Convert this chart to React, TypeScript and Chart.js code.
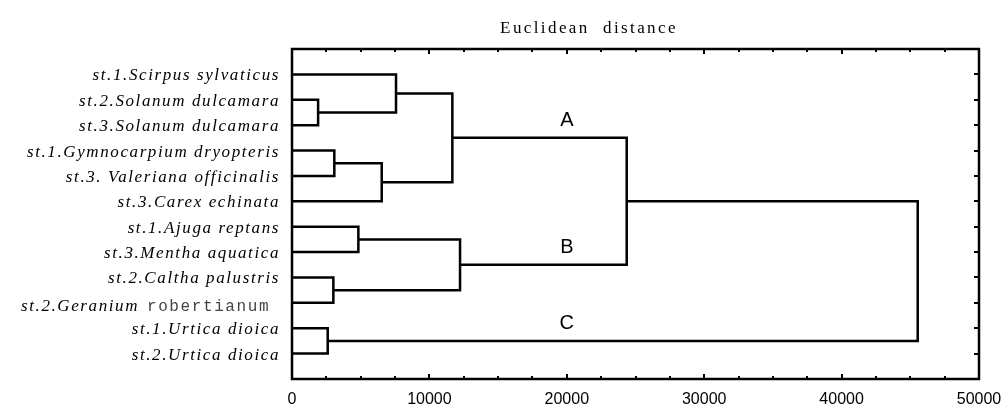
import React, { useEffect, useRef } from "react";
import { Chart, registerables } from "chart.js";

Chart.register(...registerables);

// Leaves (top to bottom)
const leafLabels = [
  "st.1.Scirpus sylvaticus",
  "st.2.Solanum dulcamara",
  "st.3.Solanum dulcamara",
  "st.1.Gymnocarpium dryopteris",
  "st.3. Valeriana officinalis",
  "st.3.Carex echinata",
  "st.1.Ajuga reptans",
  "st.3.Mentha aquatica",
  "st.2.Caltha palustris",
  "st.2.Geranium ",
  "st.1.Urtica dioica",
  "st.2.Urtica dioica",
];
const leafLabelSuffix = ["", "", "", "", "", "", "", "", "", "robertianum", "", ""];

// Merges: node index = 12 + position in these arrays
const mergeLeft = [1, 0, 3, 14, 13, 6, 8, 17, 10, 16, 21];
const mergeRight = [2, 12, 4, 5, 15, 7, 9, 18, 11, 19, 20];
const mergeHeight = [1900, 7570, 3080, 6530, 11670, 4830, 3010, 12230, 2600, 24360, 45540];

// Cluster letters
const clusterNames = ["A", "B", "C"];
const clusterNodes = [16, 19, 20];
const clusterLabelX = 20000;

// Axis
const xMin = 0;
const xMax = 50000;
const xMajorStep = 10000;
const xMinorStep = 2500;
const axisTitle = "Euclidean distance";

function buildTree() {
  const n = leafLabels.length;
  const ys: number[] = [];
  const hs: number[] = [];
  for (let i = 0; i < n; i++) {
    ys.push(i + 1);
    hs.push(0);
  }
  const segments: { x: number; y: number }[][] = [];
  for (let k = 0; k < mergeLeft.length; k++) {
    const l = mergeLeft[k];
    const r = mergeRight[k];
    const h = mergeHeight[k];
    segments.push([
      { x: hs[l], y: ys[l] },
      { x: h, y: ys[l] },
      { x: h, y: ys[r] },
      { x: hs[r], y: ys[r] },
    ]);
    ys.push((ys[l] + ys[r]) / 2);
    hs.push(h);
  }
  return { ys, hs, segments };
}

export default function App() {
  const ref = useRef<HTMLCanvasElement | null>(null);
  useEffect(() => {
    if (!ref.current) return;
    const { ys, segments } = buildTree();
    const n = leafLabels.length;

    const decor = {
      id: "decor",
      afterDraw(chart: any) {
        const ctx = chart.ctx as CanvasRenderingContext2D;
        const ca = chart.chartArea;
        const xs = chart.scales.x;
        const yS = chart.scales.y;
        ctx.save();
        ctx.strokeStyle = "#000";
        ctx.fillStyle = "#000";
        ctx.lineWidth = 2.5;
        // frame
        ctx.strokeRect(ca.left, ca.top, ca.right - ca.left, ca.bottom - ca.top);
        // x ticks top & bottom (inward)
        ctx.lineWidth = 2;
        for (let v = xMin + xMinorStep; v < xMax; v += xMinorStep) {
          const px = Math.round(xs.getPixelForValue(v));
          const major = v % xMajorStep === 0;
          const len = major ? 5 : 3;
          ctx.beginPath();
          ctx.moveTo(px, ca.top);
          ctx.lineTo(px, ca.top + len);
          ctx.moveTo(px, ca.bottom);
          ctx.lineTo(px, ca.bottom - len);
          ctx.stroke();
        }
        // right ticks at leaves
        for (let i = 0; i < n; i++) {
          const py = Math.round(yS.getPixelForValue(i + 1));
          ctx.beginPath();
          ctx.moveTo(ca.right, py);
          ctx.lineTo(ca.right - 5, py);
          ctx.stroke();
        }
        // leaf labels
        ctx.textBaseline = "alphabetic";
        for (let i = 0; i < n; i++) {
          const py = yS.getPixelForValue(i + 1) + 6;
          const suf = leafLabelSuffix[i];
          if (suf) {
            ctx.textAlign = "left";
            ctx.font = "italic 17px 'Liberation Serif'";
            (ctx as any).letterSpacing = "1.6px";
            ctx.fillStyle = "#000";
            ctx.fillText(leafLabels[i], 21, py + 2);
            const w = ctx.measureText(leafLabels[i]).width;
            ctx.font = "16px 'Liberation Mono'";
            (ctx as any).letterSpacing = "1.6px";
            ctx.fillStyle = "#444";
            ctx.fillText(suf, 23 + w, py + 2);
            continue;
          }
          ctx.textAlign = "right";
          ctx.fillStyle = "#000";
          ctx.font = "italic 17px 'Liberation Serif'";
          (ctx as any).letterSpacing = "1.6px";
          ctx.fillText(leafLabels[i], 280, py);
        }
        // title
        ctx.fillStyle = "#000";
        ctx.font = "17px 'Liberation Serif'";
        (ctx as any).letterSpacing = "2.4px";
        ctx.textAlign = "center";
        ctx.fillText(axisTitle.replace(" ", "  "), 589, 33);
        // cluster letters
        (ctx as any).letterSpacing = "0px";
        ctx.font = "20px 'Liberation Sans'";
        ctx.textAlign = "center";
        ctx.textBaseline = "alphabetic";
        for (let c = 0; c < clusterNames.length; c++) {
          const nodeY = ys[clusterNodes[c]];
          const px = xs.getPixelForValue(clusterLabelX);
          const py = yS.getPixelForValue(nodeY) - 12;
          ctx.fillText(clusterNames[c], px, py);
        }
        ctx.restore();
      },
    };

    const chart = new Chart(ref.current, {
      type: "scatter",
      data: {
        datasets: segments.map((seg) => ({
          data: seg,
          showLine: true,
          borderColor: "#000",
          borderWidth: 2.5,
          pointRadius: 0,
          tension: 0,
          fill: false,
        })),
      },
      options: {
        responsive: false,
        animation: false,
        devicePixelRatio: 1,
        layout: { padding: { top: 49, right: 24, left: 0, bottom: 0 } },
        plugins: { legend: { display: false }, tooltip: { enabled: false }, title: { display: false } },
        scales: {
          x: {
            type: "linear",
            min: xMin,
            max: xMax,
            grid: { display: false, drawTicks: false },
            border: { display: false },
            ticks: {
              stepSize: xMajorStep,
              color: "#000",
              padding: 11,
              maxRotation: 0,
              callback: (v: any) => String(v),
              font: { family: "'Liberation Sans', Arial", size: 16 },
            },
            afterFit: (s: any) => {
              s.height = 28;
              s.paddingRight = 0;
              s.paddingLeft = 0;
            },
          },
          y: {
            type: "linear",
            min: 0,
            max: n + 1,
            reverse: true,
            grid: { display: false, drawTicks: false },
            border: { display: false },
            ticks: { display: false },
            afterFit: (s: any) => {
              s.width = 292;
            },
          },
        },
      },
      plugins: [decor],
    } as any);
    return () => chart.destroy();
  }, []);
  return (
    <div style={{ position: "absolute", left: 0, top: 0, width: 1003, height: 407, background: "#fff" }}>
      <canvas ref={ref} width={1003} height={407} style={{ width: 1003, height: 407 }} />
    </div>
  );
}
